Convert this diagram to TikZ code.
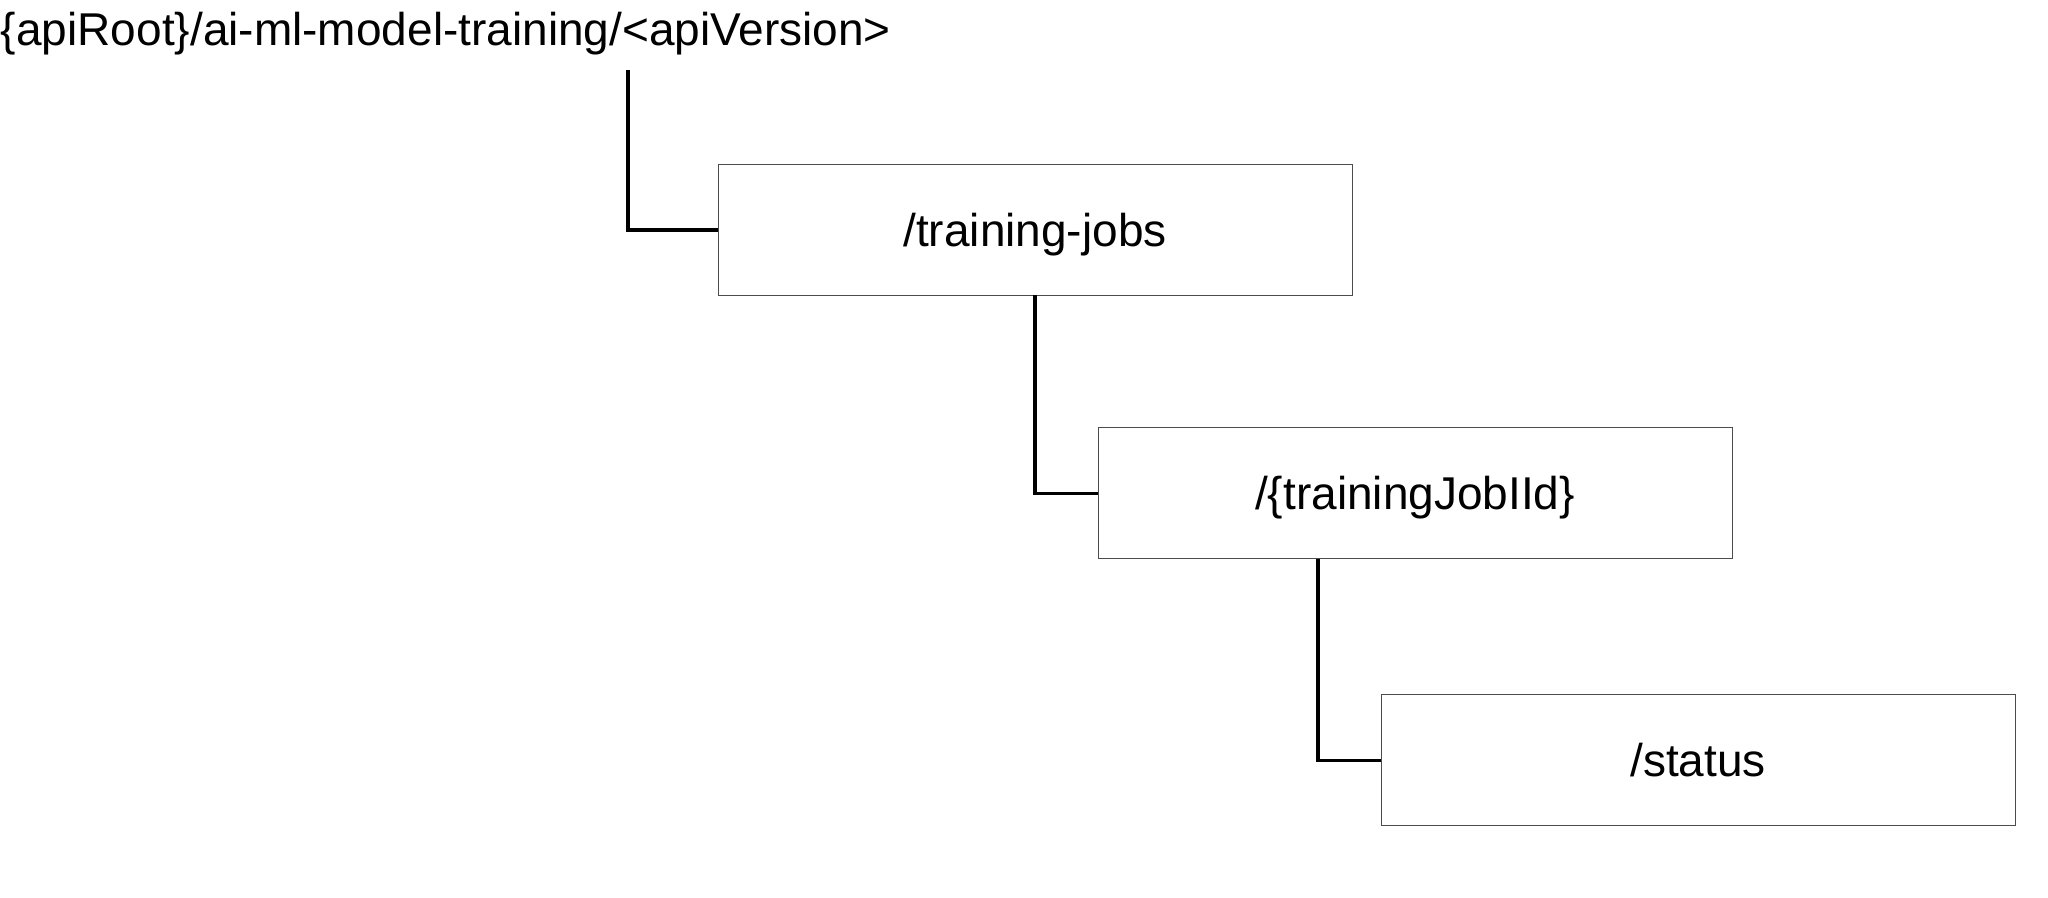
\documentclass[tikz,border=0pt]{standalone}
\usepackage{fontspec}
\setmainfont{Liberation Sans}
\usetikzlibrary{calc}
\begin{document}
\begin{tikzpicture}[x=0.5pt,y=0.5pt,
  resbox/.style={draw=black!70, line width=0.5pt, minimum width=317pt, minimum height=65.5pt, inner sep=0pt, outer sep=0pt, text height=16.5pt, text depth=0pt, font=\fontsize{23}{27}\selectfont},
  conn/.style={draw=black, line width=1.6pt},
  lbl/.style={inner sep=0pt, outer sep=0pt, font=\fontsize{23}{27}\selectfont}]
\useasboundingbox (0,0) rectangle (2048,898);
\node[lbl, anchor=base west] (root) at (1,852) {\{apiRoot\}/ai-ml-model-training/<apiVersion>};
\coordinate (rootout) at (628,828);
\node[resbox] (jobs) at (1035,668) {/training-jobs};
\node[resbox] (jobid) at (1415,404.5) {/\{trainingJobIId\}};
\node[resbox] (status) at (1698,137.5) {/status};
\coordinate (jobidout) at ($(jobid.south west)+(220,0)$);
\draw[conn] (rootout) |- (jobs.west);
\draw[conn] (jobs.south) |- (jobid.west);
\draw[conn] (jobidout) |- (status.west);
\end{tikzpicture}
\end{document}
